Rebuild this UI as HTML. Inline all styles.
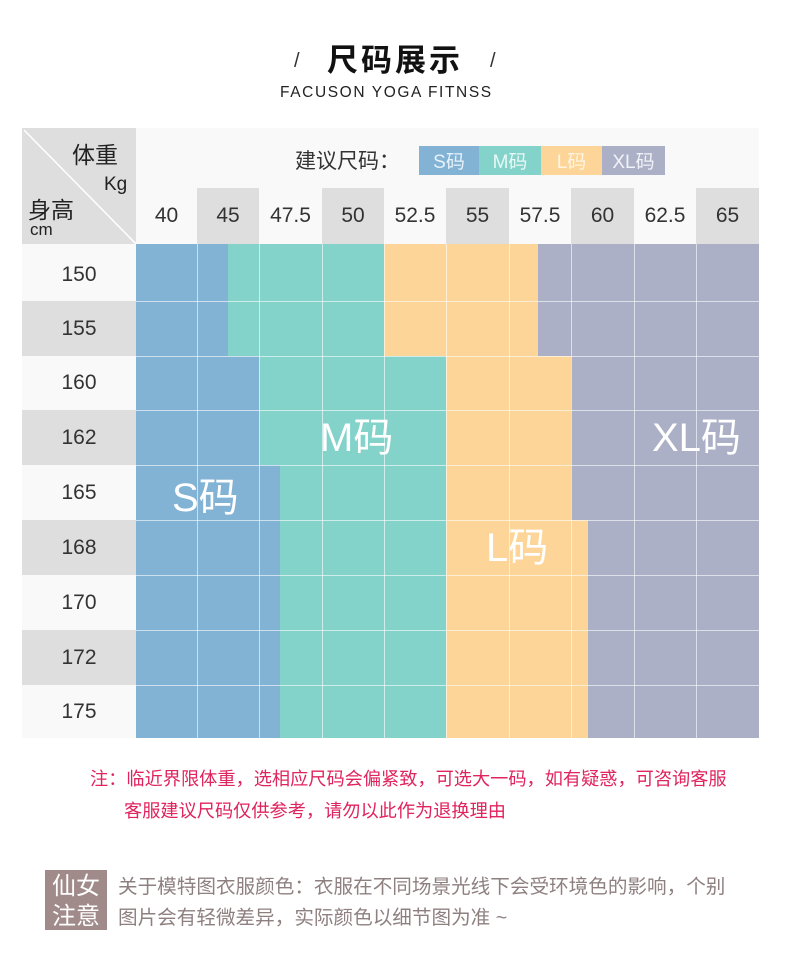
<!DOCTYPE html>
<html><head><meta charset="utf-8"><style>
body{margin:0;width:790px;height:971px;background:#fff;position:relative;overflow:hidden;font-family:"Liberation Sans","Noto Sans CJK SC",sans-serif;}
.a{position:absolute;line-height:1;}
.c{position:absolute;display:flex;align-items:center;justify-content:center;}
.S{background:#82b2d4}.M{background:#84d3cb}.L{background:#fdd598}.X{background:#abb0c6}
.g{background:#dedede}.w{background:#f9f9f9}
.t{color:#333;font-size:21px;}
.big{position:absolute;color:#fff;font-size:40px;line-height:1;}
</style></head><body>
<div class="a" style="left:294px;top:51px;font-size:20px;color:#333">/</div>
<div class="a" style="left:490px;top:51px;font-size:20px;color:#333">/</div>
<div class="a" style="left:327px;top:45px;font-size:31px;font-weight:bold;color:#111;letter-spacing:3px">尺码展示</div>
<div class="a" style="left:280px;top:85px;font-size:15.5px;color:#222;letter-spacing:1.6px">FACUSON YOGA FITNSS</div>

<div class="a g" style="left:22px;top:128px;width:114px;height:116px"></div>
<svg class="a" style="left:22px;top:128px" width="114" height="116"><line x1="2" y1="2" x2="114" y2="116" stroke="#fff" stroke-width="1.5"/></svg>
<div class="a" style="left:72px;top:144px;font-size:23px;color:#222">体重</div>
<div class="a" style="left:104px;top:175px;font-size:19px;color:#222">Kg</div>
<div class="a" style="left:28px;top:199px;font-size:23px;color:#222">身高</div>
<div class="a" style="left:30px;top:221px;font-size:17px;color:#222">cm</div>
<div class="a w" style="left:136px;top:128px;width:623px;height:60px"></div>
<div class="a" style="left:295px;top:151px;font-size:21px;color:#333">建议尺码：</div>
<div class="c S" style="left:419px;top:146px;width:60px;height:29px;color:#e8f2fa;font-size:19px">S码</div>
<div class="c M" style="left:479px;top:146px;width:62px;height:29px;color:#e8f8f6;font-size:19px">M码</div>
<div class="c L" style="left:541px;top:146px;width:61px;height:29px;color:#fff5e0;font-size:19px">L码</div>
<div class="c X" style="left:602px;top:146px;width:63px;height:29px;color:#f2f3f8;font-size:19px">XL码</div>

<div class="c w t" style="left:136px;top:188px;width:61px;height:56px">40</div>
<div class="c g t" style="left:197px;top:188px;width:62px;height:56px">45</div>
<div class="c w t" style="left:259px;top:188px;width:63px;height:56px">47.5</div>
<div class="c g t" style="left:322px;top:188px;width:62px;height:56px">50</div>
<div class="c w t" style="left:384px;top:188px;width:62px;height:56px">52.5</div>
<div class="c g t" style="left:446px;top:188px;width:63px;height:56px">55</div>
<div class="c w t" style="left:509px;top:188px;width:62px;height:56px">57.5</div>
<div class="c g t" style="left:571px;top:188px;width:63px;height:56px">60</div>
<div class="c w t" style="left:634px;top:188px;width:62px;height:56px">62.5</div>
<div class="c g t" style="left:696px;top:188px;width:63px;height:56px">65</div>

<div class="c w t" style="left:22px;top:244px;width:114px;height:61px">150</div>
<div class="c g t" style="left:22px;top:301px;width:114px;height:55px">155</div>
<div class="c w t" style="left:22px;top:356px;width:114px;height:54px">160</div>
<div class="c g t" style="left:22px;top:410px;width:114px;height:55px">162</div>
<div class="c w t" style="left:22px;top:465px;width:114px;height:55px">165</div>
<div class="c g t" style="left:22px;top:520px;width:114px;height:55px">168</div>
<div class="c w t" style="left:22px;top:575px;width:114px;height:55px">170</div>
<div class="c g t" style="left:22px;top:630px;width:114px;height:55px">172</div>
<div class="c w t" style="left:22px;top:685px;width:114px;height:53px">175</div>
<div class="c g t" style="left:22px;top:301px;width:114px;height:55px">155</div>

<div class="a S" style="left:136px;top:244px;width:92px;height:112px"></div>
<div class="a M" style="left:228px;top:244px;width:156px;height:112px"></div>
<div class="a L" style="left:384px;top:244px;width:154px;height:112px"></div>
<div class="a X" style="left:538px;top:244px;width:221px;height:112px"></div>
<div class="a S" style="left:136px;top:356px;width:123px;height:109px"></div>
<div class="a M" style="left:259px;top:356px;width:187px;height:109px"></div>
<div class="a L" style="left:446px;top:356px;width:125px;height:109px"></div>
<div class="a X" style="left:571px;top:356px;width:188px;height:109px"></div>
<div class="a S" style="left:136px;top:465px;width:144px;height:273px"></div>
<div class="a M" style="left:280px;top:465px;width:166px;height:273px"></div>
<div class="a L" style="left:446px;top:465px;width:125px;height:55px"></div>
<div class="a X" style="left:571px;top:465px;width:188px;height:55px"></div>
<div class="a L" style="left:446px;top:520px;width:142px;height:218px"></div>
<div class="a X" style="left:588px;top:520px;width:171px;height:218px"></div>

<svg class="a" style="left:136px;top:244px" width="623" height="494">
<g stroke="#fff" stroke-opacity="0.6" stroke-width="1">
<line x1="61.5" y1="0" x2="61.5" y2="494"/><line x1="123.5" y1="0" x2="123.5" y2="494"/><line x1="186.5" y1="0" x2="186.5" y2="494"/><line x1="248.5" y1="0" x2="248.5" y2="494"/><line x1="310.5" y1="0" x2="310.5" y2="494"/><line x1="373.5" y1="0" x2="373.5" y2="494"/><line x1="435.5" y1="0" x2="435.5" y2="494"/><line x1="498.5" y1="0" x2="498.5" y2="494"/><line x1="560.5" y1="0" x2="560.5" y2="494"/>
<line x1="0" y1="57.5" x2="623" y2="57.5"/><line x1="0" y1="112.5" x2="623" y2="112.5"/><line x1="0" y1="166.5" x2="623" y2="166.5"/><line x1="0" y1="221.5" x2="623" y2="221.5"/><line x1="0" y1="276.5" x2="623" y2="276.5"/><line x1="0" y1="331.5" x2="623" y2="331.5"/><line x1="0" y1="386.5" x2="623" y2="386.5"/><line x1="0" y1="441.5" x2="623" y2="441.5"/>
</g></svg>

<div class="big" style="left:320px;top:418px">M码</div>
<div class="big" style="left:652px;top:418px">XL码</div>
<div class="big" style="left:172px;top:478px">S码</div>
<div class="big" style="left:486px;top:528px">L码</div>

<div class="a" style="left:90px;top:770px;font-size:18.2px;color:#e0245e;white-space:nowrap">注：临近界限体重，选相应尺码会偏紧致，可选大一码，如有疑惑，可咨询客服</div>
<div class="a" style="left:124px;top:802px;font-size:18.2px;color:#e0245e;white-space:nowrap">客服建议尺码仅供参考，请勿以此作为退换理由</div>

<div class="a" style="left:45px;top:870px;width:62px;height:60px;background:#a08a8a"></div>
<div class="a" style="left:52px;top:872px;font-size:24px;color:#fff;line-height:30px">仙女<br>注意</div>
<div class="a" style="left:118px;top:872px;font-size:19.6px;color:#8f8080;line-height:31px;white-space:nowrap">关于模特图衣服颜色：衣服在不同场景光线下会受环境色的影响，个别<br>图片会有轻微差异，实际颜色以细节图为准 ~</div>
</body></html>
